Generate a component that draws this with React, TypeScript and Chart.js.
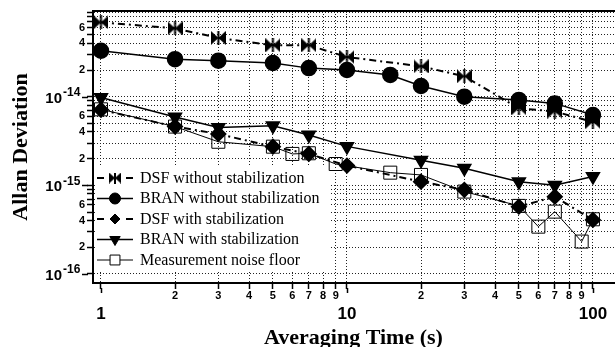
import React, { useEffect, useRef } from 'react';
import { Chart, registerables } from 'chart.js';
import { drawPoint } from 'chart.js/helpers';

Chart.register(...registerables);

// ---------- data ----------
const DSF_NS_X = [1, 2, 3, 5, 7, 10, 20, 30, 50, 70, 100];
const DSF_NS_Y = [6.9e-14, 5.9e-14, 4.6e-14, 3.8e-14, 3.8e-14, 2.8e-14, 2.2e-14, 1.7e-14, 7.4e-15, 6.8e-15, 5.2e-15];

const BRAN_NS_X = [1, 2, 3, 5, 7, 10, 15, 20, 30, 50, 70, 100];
const BRAN_NS_Y = [3.3e-14, 2.65e-14, 2.55e-14, 2.4e-14, 2.1e-14, 2.0e-14, 1.76e-14, 1.32e-14, 1.0e-14, 9.2e-15, 8.4e-15, 6.2e-15];

const DSF_S_X = [1, 2, 3, 5, 7, 10, 20, 30, 50, 70, 100];
const DSF_S_Y = [7.1e-15, 4.6e-15, 3.8e-15, 2.73e-15, 2.26e-15, 1.67e-15, 1.1e-15, 8.9e-16, 5.75e-16, 7.45e-16, 4.07e-16];

const BRAN_S_X = [1, 2, 3, 5, 7, 10, 20, 30, 50, 70, 100];
const BRAN_S_Y = [9.8e-15, 5.9e-15, 4.5e-15, 4.7e-15, 3.7e-15, 2.75e-15, 1.92e-15, 1.56e-15, 1.1e-15, 1.0e-15, 1.26e-15];

const NOISE_X = [1, 2, 3, 5, 6, 7, 9, 15, 20, 30, 50, 60, 70, 90, 100];
const NOISE_Y = [7.2e-15, 4.6e-15, 3.1e-15, 2.73e-15, 2.26e-15, 2.3e-15, 1.74e-15, 1.39e-15, 1.31e-15, 8.5e-16, 5.86e-16, 3.42e-16, 5.05e-16, 2.32e-16, 4.14e-16];

const LEGEND_LABELS = [
  'DSF without stabilization',
  'BRAN without stabilization',
  'DSF with stabilization',
  'BRAN with stabilization',
  'Measurement noise floor',
];

const X_TICKS = [1, 2, 3, 4, 5, 6, 7, 8, 9, 10, 20, 30, 40, 50, 60, 70, 80, 90, 100];
const X_TICK_LABELS: (string | string[])[] = [
  ['', '1'], '2', '3', '4', '5', '6', '7', '8', '9',
  ['', '10'], '2', '3', '4', '5', '6', '7', '8', '9',
  ['', '100'],
];
const X_MAJOR = [1, 10, 100];

const Y_TICKS = [
  1e-16, 2e-16, 3e-16, 4e-16, 5e-16, 6e-16, 7e-16, 8e-16, 9e-16,
  1e-15, 2e-15, 3e-15, 4e-15, 5e-15, 6e-15, 7e-15, 8e-15, 9e-15,
  1e-14, 2e-14, 3e-14, 4e-14, 5e-14, 6e-14, 7e-14, 8e-14, 9e-14,
];
const Y_TICK_LABELS = [
  '', '2', '', '4', '', '6', '', '', '',
  '', '2', '', '4', '', '6', '', '', '',
  '', '2', '', '4', '', '6', '', '', '',
];
const Y_DECADES = [1e-16, 1e-15, 1e-14];
const Y_DECADE_EXP = ['-16', '-15', '-14'];

const X_MIN = 0.928;
const X_MAX = 121.8;
const Y_MIN = 7.91e-17;
const Y_MAX = 9.26e-14;

// ---------- helpers ----------
const zip = (xs: number[], ys: number[]) => xs.map((x, i) => ({ x, y: ys[i] }));

function makeBowtie(w: number, h: number) {
  const c = document.createElement('canvas');
  c.width = w;
  c.height = h;
  const g = c.getContext('2d')!;
  g.fillStyle = '#000';
  g.beginPath();
  g.moveTo(0, 0);
  g.lineTo(w / 2, h / 2);
  g.lineTo(0, h);
  g.closePath();
  g.moveTo(w, 0);
  g.lineTo(w / 2, h / 2);
  g.lineTo(w, h);
  g.closePath();
  g.fill();
  g.fillRect(w / 2 - 1, 0, 2, h);
  return c;
}

const SANS = '"Liberation Sans", Arial, sans-serif';
const SERIF = '"Liberation Serif", "Times New Roman", serif';

export default function App() {
  const ref = useRef<HTMLCanvasElement | null>(null);

  useEffect(() => {
    if (!ref.current) return;
    const bowtie = makeBowtie(15, 14);
    const bowtieSmall = makeBowtie(12, 11);
    const DASHDOT = [7, 4, 2, 4];

    const datasets: any[] = [
      {
        label: LEGEND_LABELS[0],
        data: zip(DSF_NS_X, DSF_NS_Y),
        borderColor: '#000',
        backgroundColor: '#000',
        borderWidth: 2,
        borderDash: DASHDOT,
        pointStyle: bowtie,
        pointRadius: 7,
        legendStyle: bowtieSmall,
        legendRadius: 6,
        legendRot: 0,
        legendDash: true,
      },
      {
        label: LEGEND_LABELS[1],
        data: zip(BRAN_NS_X, BRAN_NS_Y),
        borderColor: '#000',
        backgroundColor: '#000',
        borderWidth: 1.5,
        pointStyle: 'circle',
        pointRadius: 7.5,
        pointBackgroundColor: '#000',
        legendStyle: 'circle',
        legendRadius: 5.5,
        legendRot: 0,
      },
      {
        label: LEGEND_LABELS[2],
        data: zip(DSF_S_X, DSF_S_Y),
        borderColor: '#000',
        backgroundColor: '#000',
        borderWidth: 2,
        borderDash: DASHDOT,
        pointStyle: 'rectRot',
        pointRadius: 7,
        pointBackgroundColor: '#000',
        legendStyle: 'rectRot',
        legendRadius: 5,
        legendRot: 0,
        legendDash: true,
      },
      {
        label: LEGEND_LABELS[3],
        data: zip(BRAN_S_X, BRAN_S_Y),
        borderColor: '#000',
        backgroundColor: '#000',
        borderWidth: 1.5,
        pointStyle: 'triangle',
        pointRotation: 180,
        pointRadius: 7.5,
        pointBackgroundColor: '#000',
        legendStyle: 'triangle',
        legendRadius: 6,
        legendRot: 180,
      },
      {
        label: LEGEND_LABELS[4],
        data: zip(NOISE_X, NOISE_Y),
        borderColor: '#000',
        backgroundColor: 'rgba(0,0,0,0)',
        borderWidth: 1,
        pointStyle: 'rect',
        pointRadius: 9.2,
        pointBorderWidth: 1,
        pointBackgroundColor: 'rgba(0,0,0,0)',
        legendStyle: 'rect',
        legendRadius: 7,
        legendRot: 0,
      },
    ];

    const decor = {
      id: 'decor',
      beforeDatasetsDraw(chart: any) {
        const { ctx, chartArea } = chart;
        ctx.save();
        ctx.fillStyle = '#fff';
        ctx.fillRect(chartArea.left + 2, chartArea.bottom - 116, 234, 105);
        ctx.restore();
      },
      afterDraw(chart: any) {
        const { ctx, chartArea } = chart;
        const xs = chart.scales.x;
        const ys = chart.scales.y;
        ctx.save();
        // top frame
        ctx.strokeStyle = '#000';
        ctx.lineWidth = 2;
        ctx.beginPath();
        ctx.moveTo(chartArea.left - 1, chartArea.top);
        ctx.lineTo(chartArea.right + 1, chartArea.top);
        ctx.stroke();

        // major tick extensions
        ctx.lineWidth = 1.5;
        Y_DECADES.forEach((v) => {
          const y = Math.round(ys.getPixelForValue(v)) + 0.5;
          ctx.beginPath();
          ctx.moveTo(chartArea.left - 11, y);
          ctx.lineTo(chartArea.left - 5, y);
          ctx.stroke();
        });
        X_MAJOR.forEach((v) => {
          const x = Math.round(xs.getPixelForValue(v)) + 0.5;
          ctx.beginPath();
          ctx.moveTo(x, chartArea.bottom + 5);
          ctx.lineTo(x, chartArea.bottom + 10);
          ctx.stroke();
        });

        // decade labels on y axis (10 with superscript exponent)
        ctx.fillStyle = '#000';
        Y_DECADES.forEach((v, i) => {
          const y = ys.getPixelForValue(v);
          ctx.font = `bold 15px ${SANS}`;
          ctx.textAlign = 'right';
          ctx.textBaseline = 'alphabetic';
          ctx.fillText('10', chartArea.left - 31, y + 6);
          ctx.font = `bold 12px ${SANS}`;
          ctx.textAlign = 'left';
          ctx.fillText(Y_DECADE_EXP[i], chartArea.left - 30, y - 0.5);
        });

        // legend
        const x0 = chartArea.left + 4;
        const x1 = chartArea.left + 40;
        const xm = (x0 + x1) / 2;
        datasets.forEach((ds, i) => {
          const y = chartArea.bottom - 105 + i * 20.5;
          ctx.strokeStyle = '#000';
          ctx.lineWidth = ds.borderWidth;
          ctx.setLineDash(ds.legendDash ? [7, 22, 7] : []);
          ctx.beginPath();
          ctx.moveTo(x0, y);
          ctx.lineTo(x1, y);
          ctx.stroke();
          ctx.setLineDash([]);
          ctx.fillStyle = ds.legendStyle === 'rect' ? '#fff' : '#000';
          ctx.lineWidth = 1;
          drawPoint(ctx, {
            pointStyle: ds.legendStyle,
            radius: ds.legendRadius,
            rotation: ds.legendRot,
            borderWidth: 1,
          } as any, xm, y);
          ctx.fillStyle = '#000';
          ctx.font = `16px ${SERIF}`;
          ctx.textAlign = 'left';
          ctx.textBaseline = 'middle';
          ctx.fillText(ds.label, chartArea.left + 47, y + 0.5);
        });
        ctx.restore();
      },
    };

    const mkGrid = () => ({
      display: true,
      drawOnChartArea: true,
      color: '#222',
      lineWidth: 1,
      tickColor: '#000',
      tickLength: 6,
      tickWidth: 1.5,
      drawTicks: true,
    });
    const mkBorder = () => ({ display: true, color: '#000', width: 2, dash: [1, 2], dashOffset: 0 });

    const chart = new Chart(ref.current, {
      type: 'line',
      data: { datasets },
      options: {
        animation: false,
        responsive: true,
        maintainAspectRatio: false,
        devicePixelRatio: 1,
        layout: { autoPadding: false, padding: { top: 11, right: 1, left: 0, bottom: 0 } },
        plugins: { legend: { display: false }, tooltip: { enabled: false } },
        elements: { line: { tension: 0 } },
        scales: {
          x: {
            type: 'logarithmic',
            min: X_MIN,
            max: X_MAX,
            afterBuildTicks: (s: any) => {
              s.ticks = X_TICKS.map((v) => ({ value: v }));
            },
            afterFit: (s: any) => {
              s.height = 64;
              s.paddingLeft = 0;
              s.paddingRight = 0;
            },
            ticks: {
              autoSkip: false,
              maxRotation: 0,
              minRotation: 0,
              padding: 0,
              color: '#000',
              font: (c: any) =>
                c.tick && X_MAJOR.includes(c.tick.value)
                  ? { family: SANS, size: 17, weight: 'bold', lineHeight: 1 }
                  : { family: SANS, size: 11, weight: 'bold', lineHeight: 1.2 },
              callback: (_v: any, i: number) => X_TICK_LABELS[i],
            },
            grid: mkGrid(),
            border: mkBorder(),
            title: {
              display: true,
              text: 'Averaging Time (s)',
              color: '#000',
              font: { family: SERIF, size: 22, weight: 'bold', lineHeight: 1 },
              padding: { top: 0, bottom: -2 },
            },
          },
          y: {
            type: 'logarithmic',
            min: Y_MIN,
            max: Y_MAX,
            afterBuildTicks: (s: any) => {
              s.ticks = Y_TICKS.map((v) => ({ value: v }));
            },
            afterFit: (s: any) => {
              s.width = 93;
              s.paddingTop = 0;
              s.paddingBottom = 0;
            },
            ticks: {
              autoSkip: false,
              padding: 2,
              color: '#000',
              font: { family: SANS, size: 11, weight: 'bold' },
              callback: (_v: any, i: number) => Y_TICK_LABELS[i],
            },
            grid: mkGrid(),
            border: mkBorder(),
            title: {
              display: true,
              text: 'Allan Deviation',
              color: '#000',
              font: { family: SERIF, size: 22, weight: 'bold', lineHeight: 1 },
              padding: { top: 10, bottom: 0 },
            },
          },
        },
      } as any,
      plugins: [decor],
    });
    return () => chart.destroy();
  }, []);

  return (
    <div style={{ position: 'absolute', left: 0, top: 0, width: 615, height: 347, background: '#fff' }}>
      <canvas ref={ref} />
    </div>
  );
}
